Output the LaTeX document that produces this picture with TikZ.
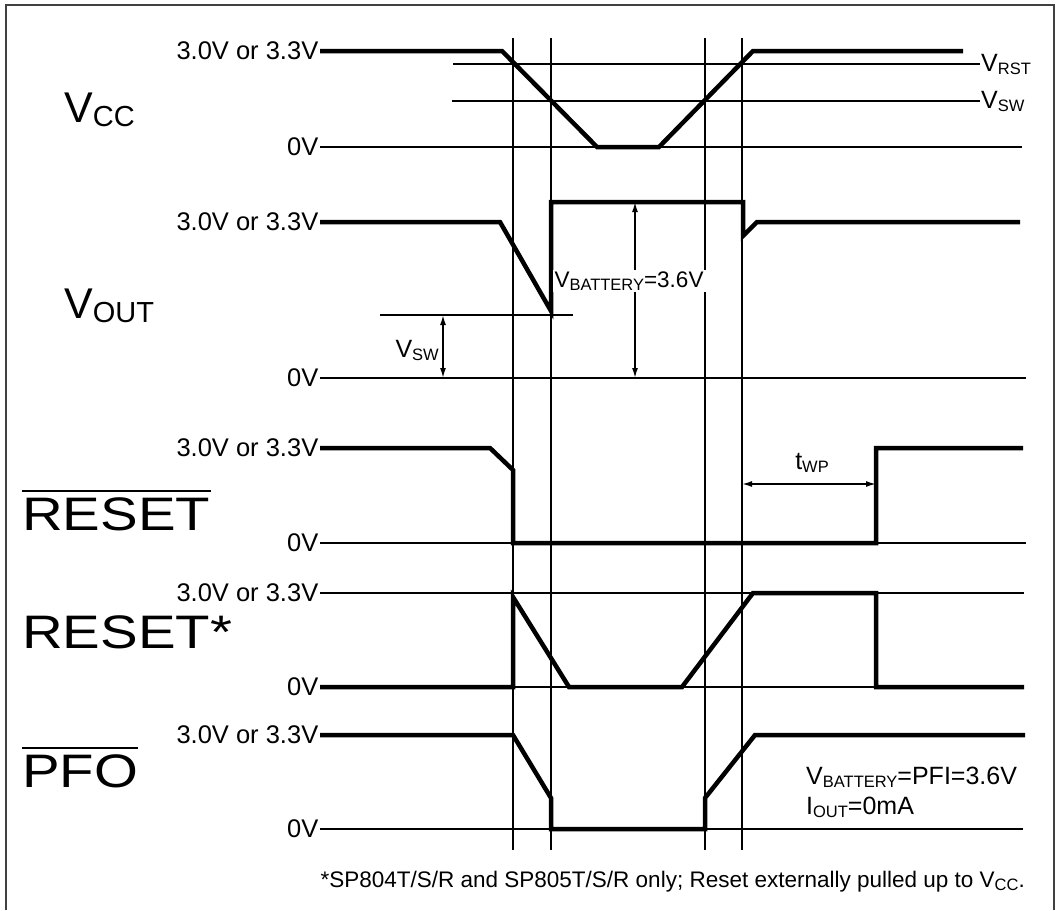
\documentclass[tikz,border=0pt]{standalone}
\usepackage{fontspec}
\setmainfont{Liberation Sans}
\usetikzlibrary{arrows.meta}

% subscripts: small labels and big signal names
\newcommand{\sbs}[1]{\raisebox{-3pt}{\fontsize{16.5}{17}\selectfont #1}}
\newcommand{\sbl}[1]{\raisebox{-4.5pt}{\fontsize{29}{29}\selectfont #1}}

\begin{document}
\begin{tikzpicture}[
  x=1pt, y=-1pt,
  wave/.style={line width=4.5pt, line join=miter},
  rail/.style={line width=1.6pt},
  guide/.style={line width=1.6pt},
  frame/.style={line width=1.4pt, black!75},
  dimarrow/.style={line width=1.6pt, {Latex[length=10pt,width=6pt]}-{Latex[length=10pt,width=6pt]}},
  lvl/.style={font=\fontsize{25.5}{28}\selectfont, anchor=east, inner sep=1.5pt},
  note/.style={font=\fontsize{25}{28}\selectfont, inner sep=1pt},
  signame/.style={font=\fontsize{43}{46}\selectfont, anchor=base west, inner sep=0pt},
  barname/.style={font=\fontsize{47}{50}\selectfont, anchor=base west, inner xsep=0pt,
    inner ysep=6pt, xscale=1.2, transform shape}
]
\useasboundingbox (0,0) rectangle (1059,910);
\draw[frame] (6,910) -- (6,5) -- (1054,5) -- (1054,910);

% timing guides
\foreach \gx in {513,551,705,742}
  \draw[guide] (\gx,38) -- (\gx,850);

% signal names
\node[signame] (vcc)  at (64,122) {V\sbl{CC}};
\node[signame] (vout) at (64,318) {V\sbl{OUT}};
\node[barname] (rst)  at (22,530) {RESET};
\draw[line width=2.6pt] (rst.north west) -- (rst.north east);
\node[barname, inner ysep=0pt] (rsts) at (22,648) {RESET*};
\node[barname] (pfo)  at (22,787) {PFO};
\draw[line width=2.6pt] (pfo.north west) -- (pfo.north east);

% level labels
\foreach \ly/\nm in {51/vcchi,222/vouthi,448/rsthi,593/rstshi,735/pfohi}
  \node[lvl] (\nm) at (320,\ly) {3.0V or 3.3V};
\foreach \ly/\nm in {147/vcclo,378/voutlo,543/rstlo,687/rstslo,829/pfolo}
  \node[lvl] (\nm) at (320,\ly) {0V};

% thin rails
\draw[rail] (453,64) -- (980,64);
\draw[rail] (452,101) -- (980,101);
\draw[rail] (vcclo.east) -- (1022,147);
\draw[rail] (380,315) -- (573,315);
\draw[rail] (voutlo.east) -- (1026,378);
\draw[rail] (rstlo.east) -- (1026,543);
\draw[rail] (rstshi.east) -- (1024,593);
\draw[rail] (rstslo.east) -- (1024,687);
\draw[rail] (pfolo.east) -- (1023,829);

\node[note, anchor=west] (vrst) at (980,64) {V\sbs{RST}};
\node[note, anchor=west] (vswr) at (980,101) {V\sbs{SW}};

% waveforms
\draw[wave] (vcchi.east) -- (502,51) -- (597,147) -- (659,147) -- (753,51) -- (963,51);
\draw[wave] (vouthi.east) -- (500,222) -- (551,311) -- (551,202) -- (743,202)
  -- (743,236) -- (757,222) -- (1020,222);
\draw[wave] (rsthi.east) -- (490,448) -- (513,470) -- (513,543) -- (876,543)
  -- (876,448) -- (1023,448);
\draw[wave] (rstslo.east) -- (513,687) -- (513,597) -- (569,687) -- (682,687)
  -- (753,593) -- (876,593) -- (876,687) -- (1024,687);
\draw[wave] (pfohi.east) -- (513,735) -- (551,798) -- (551,829) -- (705,829)
  -- (705,798) -- (755,735) -- (1025,735);

% dimensions
\coordinate (swtop) at (443,315);
\coordinate (swbot) at (443,378);
\draw[dimarrow] (swtop) -- (swbot);
\node[note, anchor=east] (vswl) at (440,350) {V\sbs{SW}};

\coordinate (battop) at (635,202);
\coordinate (batbot) at (635,378);
\draw[dimarrow] (battop) -- (batbot);
\node[note, font=\fontsize{22.5}{26}\selectfont, fill=white, inner sep=2pt] (vbat)
  at (629,281) {V\sbs{BATTERY}=3.6V};

\coordinate (wpl) at (742,484);
\coordinate (wpr) at (876,484);
\draw[dimarrow] (wpl) -- (wpr);
\node[note] (twp) at (812,463) {t\sbs{WP}};

% conditions and footnote
\node[note, anchor=west] (cond1) at (805,777) {V\sbs{BATTERY}=PFI=3.6V};
\node[note, anchor=west] (cond2) at (805,807) {I\sbs{OUT}=0mA};
\node[note, font=\fontsize{22.5}{26}\selectfont, anchor=east] (foot) at (1026,882)
  {*SP804T/S/R and SP805T/S/R only; Reset externally pulled up to V\sbs{CC}.};
\end{tikzpicture}
\end{document}
